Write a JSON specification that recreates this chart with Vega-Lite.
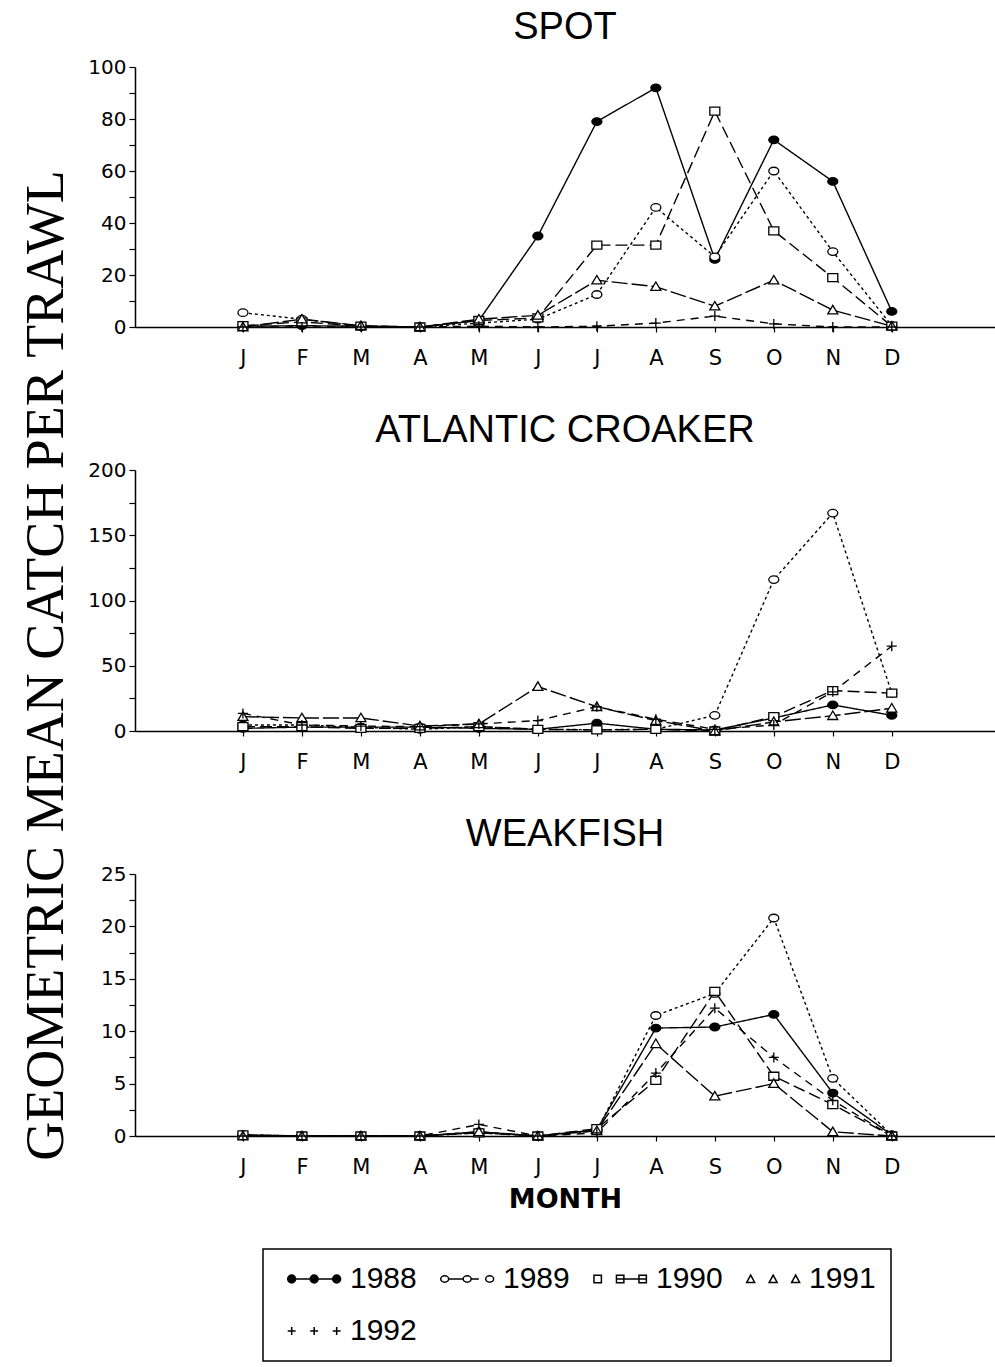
{
  "$schema": "https://vega.github.io/schema/vega-lite/v6.json",
  "background": "white",
  "padding": {"left": 19, "top": 9, "right": 0, "bottom": 0},
  "bounds": "flush",
  "spacing": 143,
  "config": {
    "view": {"stroke": null},
    "axis": {"grid": false, "domainColor": "black", "domainWidth": 1.5, "tickColor": "black", "tickWidth": 1.2, "labelColor": "black", "titleColor": "black", "labelFont": "DejaVu Sans"},
    "title": {"frame": "group", "anchor": "middle", "font": "Liberation Sans", "fontSize": 38, "fontWeight": "normal", "color": "black", "offset": 10},
    "legend": {"strokeWidth": 1.5, "symbolOpacity": 1}
  },
  "datasets": {
    "catch": [
      {"species":"SPOT","year":"1988","month":1,"value":0.3},{"species":"SPOT","year":"1988","month":2,"value":0.5},{"species":"SPOT","year":"1988","month":3,"value":0.3},{"species":"SPOT","year":"1988","month":4,"value":0},{"species":"SPOT","year":"1988","month":5,"value":2.5},{"species":"SPOT","year":"1988","month":6,"value":35},{"species":"SPOT","year":"1988","month":7,"value":79},{"species":"SPOT","year":"1988","month":8,"value":92},{"species":"SPOT","year":"1988","month":9,"value":26},{"species":"SPOT","year":"1988","month":10,"value":72},{"species":"SPOT","year":"1988","month":11,"value":56},{"species":"SPOT","year":"1988","month":12,"value":6},
      {"species":"SPOT","year":"1989","month":1,"value":5.5},{"species":"SPOT","year":"1989","month":2,"value":3},{"species":"SPOT","year":"1989","month":3,"value":0.3},{"species":"SPOT","year":"1989","month":4,"value":0},{"species":"SPOT","year":"1989","month":5,"value":1.5},{"species":"SPOT","year":"1989","month":6,"value":3},{"species":"SPOT","year":"1989","month":7,"value":12.5},{"species":"SPOT","year":"1989","month":8,"value":46},{"species":"SPOT","year":"1989","month":9,"value":27},{"species":"SPOT","year":"1989","month":10,"value":60},{"species":"SPOT","year":"1989","month":11,"value":29},{"species":"SPOT","year":"1989","month":12,"value":0.5},
      {"species":"SPOT","year":"1990","month":1,"value":0.5},{"species":"SPOT","year":"1990","month":2,"value":2},{"species":"SPOT","year":"1990","month":3,"value":0.3},{"species":"SPOT","year":"1990","month":4,"value":0},{"species":"SPOT","year":"1990","month":5,"value":2.5},{"species":"SPOT","year":"1990","month":6,"value":3.5},{"species":"SPOT","year":"1990","month":7,"value":31.5},{"species":"SPOT","year":"1990","month":8,"value":31.5},{"species":"SPOT","year":"1990","month":9,"value":83},{"species":"SPOT","year":"1990","month":10,"value":37},{"species":"SPOT","year":"1990","month":11,"value":19},{"species":"SPOT","year":"1990","month":12,"value":0.3},
      {"species":"SPOT","year":"1991","month":1,"value":0},{"species":"SPOT","year":"1991","month":2,"value":3},{"species":"SPOT","year":"1991","month":3,"value":0.5},{"species":"SPOT","year":"1991","month":4,"value":0},{"species":"SPOT","year":"1991","month":5,"value":3},{"species":"SPOT","year":"1991","month":6,"value":4.5},{"species":"SPOT","year":"1991","month":7,"value":18},{"species":"SPOT","year":"1991","month":8,"value":15.5},{"species":"SPOT","year":"1991","month":9,"value":8},{"species":"SPOT","year":"1991","month":10,"value":18},{"species":"SPOT","year":"1991","month":11,"value":6.5},{"species":"SPOT","year":"1991","month":12,"value":0.3},
      {"species":"SPOT","year":"1992","month":1,"value":0},{"species":"SPOT","year":"1992","month":2,"value":0},{"species":"SPOT","year":"1992","month":3,"value":0},{"species":"SPOT","year":"1992","month":4,"value":0},{"species":"SPOT","year":"1992","month":5,"value":0.3},{"species":"SPOT","year":"1992","month":6,"value":0},{"species":"SPOT","year":"1992","month":7,"value":0.3},{"species":"SPOT","year":"1992","month":8,"value":1.5},{"species":"SPOT","year":"1992","month":9,"value":4.2},{"species":"SPOT","year":"1992","month":10,"value":1.2},{"species":"SPOT","year":"1992","month":11,"value":0},{"species":"SPOT","year":"1992","month":12,"value":0},
      {"species":"ATLANTIC CROAKER","year":"1988","month":1,"value":2},{"species":"ATLANTIC CROAKER","year":"1988","month":2,"value":3},{"species":"ATLANTIC CROAKER","year":"1988","month":3,"value":3},{"species":"ATLANTIC CROAKER","year":"1988","month":4,"value":3},{"species":"ATLANTIC CROAKER","year":"1988","month":5,"value":2},{"species":"ATLANTIC CROAKER","year":"1988","month":6,"value":1.3},{"species":"ATLANTIC CROAKER","year":"1988","month":7,"value":6},{"species":"ATLANTIC CROAKER","year":"1988","month":8,"value":1.3},{"species":"ATLANTIC CROAKER","year":"1988","month":9,"value":0.8},{"species":"ATLANTIC CROAKER","year":"1988","month":10,"value":10},{"species":"ATLANTIC CROAKER","year":"1988","month":11,"value":20},{"species":"ATLANTIC CROAKER","year":"1988","month":12,"value":12},
      {"species":"ATLANTIC CROAKER","year":"1989","month":1,"value":4.6},{"species":"ATLANTIC CROAKER","year":"1989","month":2,"value":4.6},{"species":"ATLANTIC CROAKER","year":"1989","month":3,"value":2.8},{"species":"ATLANTIC CROAKER","year":"1989","month":4,"value":1.3},{"species":"ATLANTIC CROAKER","year":"1989","month":5,"value":3.3},{"species":"ATLANTIC CROAKER","year":"1989","month":6,"value":1.3},{"species":"ATLANTIC CROAKER","year":"1989","month":7,"value":1},{"species":"ATLANTIC CROAKER","year":"1989","month":8,"value":1.3},{"species":"ATLANTIC CROAKER","year":"1989","month":9,"value":12},{"species":"ATLANTIC CROAKER","year":"1989","month":10,"value":116},{"species":"ATLANTIC CROAKER","year":"1989","month":11,"value":167},{"species":"ATLANTIC CROAKER","year":"1989","month":12,"value":29},
      {"species":"ATLANTIC CROAKER","year":"1990","month":1,"value":3.3},{"species":"ATLANTIC CROAKER","year":"1990","month":2,"value":3.3},{"species":"ATLANTIC CROAKER","year":"1990","month":3,"value":2},{"species":"ATLANTIC CROAKER","year":"1990","month":4,"value":2},{"species":"ATLANTIC CROAKER","year":"1990","month":5,"value":3.3},{"species":"ATLANTIC CROAKER","year":"1990","month":6,"value":1.3},{"species":"ATLANTIC CROAKER","year":"1990","month":7,"value":0.8},{"species":"ATLANTIC CROAKER","year":"1990","month":8,"value":1.3},{"species":"ATLANTIC CROAKER","year":"1990","month":9,"value":0},{"species":"ATLANTIC CROAKER","year":"1990","month":10,"value":11},{"species":"ATLANTIC CROAKER","year":"1990","month":11,"value":31},{"species":"ATLANTIC CROAKER","year":"1990","month":12,"value":29},
      {"species":"ATLANTIC CROAKER","year":"1991","month":1,"value":11},{"species":"ATLANTIC CROAKER","year":"1991","month":2,"value":10},{"species":"ATLANTIC CROAKER","year":"1991","month":3,"value":10},{"species":"ATLANTIC CROAKER","year":"1991","month":4,"value":3.8},{"species":"ATLANTIC CROAKER","year":"1991","month":5,"value":5.4},{"species":"ATLANTIC CROAKER","year":"1991","month":6,"value":34},{"species":"ATLANTIC CROAKER","year":"1991","month":7,"value":18.6},{"species":"ATLANTIC CROAKER","year":"1991","month":8,"value":8},{"species":"ATLANTIC CROAKER","year":"1991","month":9,"value":0},{"species":"ATLANTIC CROAKER","year":"1991","month":10,"value":7},{"species":"ATLANTIC CROAKER","year":"1991","month":11,"value":11.7},{"species":"ATLANTIC CROAKER","year":"1991","month":12,"value":17.4},
      {"species":"ATLANTIC CROAKER","year":"1992","month":1,"value":13.5},{"species":"ATLANTIC CROAKER","year":"1992","month":2,"value":4.6},{"species":"ATLANTIC CROAKER","year":"1992","month":3,"value":3.8},{"species":"ATLANTIC CROAKER","year":"1992","month":4,"value":3.3},{"species":"ATLANTIC CROAKER","year":"1992","month":5,"value":5.4},{"species":"ATLANTIC CROAKER","year":"1992","month":6,"value":8},{"species":"ATLANTIC CROAKER","year":"1992","month":7,"value":18.6},{"species":"ATLANTIC CROAKER","year":"1992","month":8,"value":9},{"species":"ATLANTIC CROAKER","year":"1992","month":9,"value":1.3},{"species":"ATLANTIC CROAKER","year":"1992","month":10,"value":4.6},{"species":"ATLANTIC CROAKER","year":"1992","month":11,"value":30},{"species":"ATLANTIC CROAKER","year":"1992","month":12,"value":65},
      {"species":"WEAKFISH","year":"1988","month":1,"value":0.1},{"species":"WEAKFISH","year":"1988","month":2,"value":0},{"species":"WEAKFISH","year":"1988","month":3,"value":0},{"species":"WEAKFISH","year":"1988","month":4,"value":0},{"species":"WEAKFISH","year":"1988","month":5,"value":0.4},{"species":"WEAKFISH","year":"1988","month":6,"value":0},{"species":"WEAKFISH","year":"1988","month":7,"value":0.6},{"species":"WEAKFISH","year":"1988","month":8,"value":10.3},{"species":"WEAKFISH","year":"1988","month":9,"value":10.4},{"species":"WEAKFISH","year":"1988","month":10,"value":11.6},{"species":"WEAKFISH","year":"1988","month":11,"value":4.1},{"species":"WEAKFISH","year":"1988","month":12,"value":0.1},
      {"species":"WEAKFISH","year":"1989","month":1,"value":0.1},{"species":"WEAKFISH","year":"1989","month":2,"value":0},{"species":"WEAKFISH","year":"1989","month":3,"value":0},{"species":"WEAKFISH","year":"1989","month":4,"value":0},{"species":"WEAKFISH","year":"1989","month":5,"value":0.3},{"species":"WEAKFISH","year":"1989","month":6,"value":0},{"species":"WEAKFISH","year":"1989","month":7,"value":0.5},{"species":"WEAKFISH","year":"1989","month":8,"value":11.5},{"species":"WEAKFISH","year":"1989","month":9,"value":13.6},{"species":"WEAKFISH","year":"1989","month":10,"value":20.8},{"species":"WEAKFISH","year":"1989","month":11,"value":5.5},{"species":"WEAKFISH","year":"1989","month":12,"value":0.1},
      {"species":"WEAKFISH","year":"1990","month":1,"value":0.1},{"species":"WEAKFISH","year":"1990","month":2,"value":0},{"species":"WEAKFISH","year":"1990","month":3,"value":0},{"species":"WEAKFISH","year":"1990","month":4,"value":0},{"species":"WEAKFISH","year":"1990","month":5,"value":0.3},{"species":"WEAKFISH","year":"1990","month":6,"value":0},{"species":"WEAKFISH","year":"1990","month":7,"value":0.7},{"species":"WEAKFISH","year":"1990","month":8,"value":5.3},{"species":"WEAKFISH","year":"1990","month":9,"value":13.8},{"species":"WEAKFISH","year":"1990","month":10,"value":5.7},{"species":"WEAKFISH","year":"1990","month":11,"value":3},{"species":"WEAKFISH","year":"1990","month":12,"value":0},
      {"species":"WEAKFISH","year":"1991","month":1,"value":0},{"species":"WEAKFISH","year":"1991","month":2,"value":0},{"species":"WEAKFISH","year":"1991","month":3,"value":0},{"species":"WEAKFISH","year":"1991","month":4,"value":0},{"species":"WEAKFISH","year":"1991","month":5,"value":0.4},{"species":"WEAKFISH","year":"1991","month":6,"value":0},{"species":"WEAKFISH","year":"1991","month":7,"value":0.5},{"species":"WEAKFISH","year":"1991","month":8,"value":8.8},{"species":"WEAKFISH","year":"1991","month":9,"value":3.8},{"species":"WEAKFISH","year":"1991","month":10,"value":5},{"species":"WEAKFISH","year":"1991","month":11,"value":0.4},{"species":"WEAKFISH","year":"1991","month":12,"value":0},
      {"species":"WEAKFISH","year":"1992","month":1,"value":0},{"species":"WEAKFISH","year":"1992","month":2,"value":0},{"species":"WEAKFISH","year":"1992","month":3,"value":0},{"species":"WEAKFISH","year":"1992","month":4,"value":0},{"species":"WEAKFISH","year":"1992","month":5,"value":1.1},{"species":"WEAKFISH","year":"1992","month":6,"value":0},{"species":"WEAKFISH","year":"1992","month":7,"value":0.3},{"species":"WEAKFISH","year":"1992","month":8,"value":6},{"species":"WEAKFISH","year":"1992","month":9,"value":12.2},{"species":"WEAKFISH","year":"1992","month":10,"value":7.5},{"species":"WEAKFISH","year":"1992","month":11,"value":3.4},{"species":"WEAKFISH","year":"1992","month":12,"value":0}
    ]
  },
  "vconcat": [
    {
      "width": 860, "height": 260,
      "title": {"text": "SPOT"},
      "data": {"name": "catch"},
      "transform": [{"filter": "datum.species === 'SPOT'"}],
      "encoding": {
        "x": {"field": "month", "type": "quantitative", "scale": {"domain": [-0.83, 13.75], "nice": false, "zero": false},
              "axis": {"title": null, "values": [1,2,3,4,5,6,7,8,9,10,11,12], "labelExpr": "['J','F','M','A','M','J','J','A','S','O','N','D'][datum.value - 1]", "labelFontSize": 21, "tickSize": 5, "labelPadding": 15}},
        "y": {"field": "value", "type": "quantitative", "scale": {"domain": [0, 100], "nice": false},
              "axis": {"title": "GEOMETRIC MEAN CATCH PER TRAWL", "titleFont": "Liberation Serif", "titleFontSize": 54, "titleFontWeight": "normal", "titleX": -73, "titleY": 598, "titleBaseline": "alphabetic", "titleAlign": "center", "titleAngle": -90,
                       "values": [0,10,20,30,40,50,60,70,80,90,100], "labelExpr": "datum.value % 20 === 0 ? datum.label : ''", "labelFontSize": 20, "tickSize": 6, "labelPadding": 3}}
      },
      "layer": [
        {"mark": {"type": "line", "color": "black", "strokeWidth": 1.4},
         "encoding": {"strokeDash": {"field": "year", "type": "nominal", "scale": {"domain": ["1988","1989","1990","1991","1992"], "range": [[1,0],[3,3],[12,5],[16,4],[8,6]]}, "legend": null}}},
        {"mark": {"type": "point", "filled": true, "stroke": "black", "strokeWidth": 1.3, "size": 100, "opacity": 1},
         "encoding": {
           "shape": {"field": "year", "type": "nominal", "scale": {"domain": ["1988","1989","1990","1991","1992"], "range": ["M -1 0 A 1 0.75 0 1 0 1 0 A 1 0.75 0 1 0 -1 0 Z","M -1 0 A 1 0.75 0 1 0 1 0 A 1 0.75 0 1 0 -1 0 Z","M -1 -0.8 L 1 -0.8 L 1 0.8 L -1 0.8 Z","M -1 0.75 L 0 -0.95 L 1 0.75 Z","M -1 0 L 1 0 M 0 -1 L 0 1"]}, "legend": null},
           "fill": {"field": "year", "type": "nominal", "scale": {"domain": ["1988","1989","1990","1991","1992"], "range": ["black","white","white","white","white"]}, "legend": null}
         }}
      ]
    },
    {
      "width": 860, "height": 261,
      "title": {"text": "ATLANTIC CROAKER"},
      "data": {"name": "catch"},
      "transform": [{"filter": "datum.species === 'ATLANTIC CROAKER'"}],
      "encoding": {
        "x": {"field": "month", "type": "quantitative", "scale": {"domain": [-0.83, 13.75], "nice": false, "zero": false},
              "axis": {"title": null, "values": [1,2,3,4,5,6,7,8,9,10,11,12], "labelExpr": "['J','F','M','A','M','J','J','A','S','O','N','D'][datum.value - 1]", "labelFontSize": 21, "tickSize": 5, "labelPadding": 15}},
        "y": {"field": "value", "type": "quantitative", "scale": {"domain": [0, 200], "nice": false},
              "axis": {"title": null, "values": [0,25,50,75,100,125,150,175,200], "labelExpr": "datum.value % 50 === 0 ? datum.label : ''", "labelFontSize": 20, "tickSize": 6, "labelPadding": 3}}
      },
      "layer": [
        {"mark": {"type": "line", "color": "black", "strokeWidth": 1.4},
         "encoding": {"strokeDash": {"field": "year", "type": "nominal", "scale": {"domain": ["1988","1989","1990","1991","1992"], "range": [[1,0],[3,3],[12,5],[16,4],[8,6]]}, "legend": null}}},
        {"mark": {"type": "point", "filled": true, "stroke": "black", "strokeWidth": 1.3, "size": 100, "opacity": 1},
         "encoding": {
           "shape": {"field": "year", "type": "nominal", "scale": {"domain": ["1988","1989","1990","1991","1992"], "range": ["M -1 0 A 1 0.75 0 1 0 1 0 A 1 0.75 0 1 0 -1 0 Z","M -1 0 A 1 0.75 0 1 0 1 0 A 1 0.75 0 1 0 -1 0 Z","M -1 -0.8 L 1 -0.8 L 1 0.8 L -1 0.8 Z","M -1 0.75 L 0 -0.95 L 1 0.75 Z","M -1 0 L 1 0 M 0 -1 L 0 1"]}, "legend": null},
           "fill": {"field": "year", "type": "nominal", "scale": {"domain": ["1988","1989","1990","1991","1992"], "range": ["black","white","white","white","white"]}, "legend": null}
         }}
      ]
    },
    {
      "width": 860, "height": 262,
      "title": {"text": "WEAKFISH"},
      "data": {"name": "catch"},
      "transform": [{"filter": "datum.species === 'WEAKFISH'"}],
      "encoding": {
        "x": {"field": "month", "type": "quantitative", "scale": {"domain": [-0.83, 13.75], "nice": false, "zero": false},
              "axis": {"title": "MONTH", "titleFont": "DejaVu Sans", "titleFontSize": 27, "titleFontWeight": "bold", "titlePadding": 9, "values": [1,2,3,4,5,6,7,8,9,10,11,12], "labelExpr": "['J','F','M','A','M','J','J','A','S','O','N','D'][datum.value - 1]", "labelFontSize": 21, "tickSize": 5, "labelPadding": 15}},
        "y": {"field": "value", "type": "quantitative", "scale": {"domain": [0, 25], "nice": false},
              "axis": {"title": null, "values": [0,2.5,5,7.5,10,12.5,15,17.5,20,22.5,25], "labelExpr": "datum.value % 5 === 0 ? datum.label : ''", "labelFontSize": 20, "tickSize": 6, "labelPadding": 3}}
      },
      "resolve": {"scale": {"shape": "independent", "fill": "independent"}, "legend": {"shape": "independent", "fill": "independent"}},
      "layer": [
        {"mark": {"type": "line", "color": "black", "strokeWidth": 1.4},
         "encoding": {"strokeDash": {"field": "year", "type": "nominal", "scale": {"domain": ["1988","1989","1990","1991","1992"], "range": [[1,0],[3,3],[12,5],[16,4],[8,6]]}, "legend": null}}},
        {"mark": {"type": "point", "filled": true, "stroke": "black", "strokeWidth": 1.3, "size": 100, "opacity": 1},
         "encoding": {
           "shape": {"field": "year", "type": "nominal", "scale": {"domain": ["1988","1989","1990","1991","1992"], "range": ["M -1 0 A 1 0.75 0 1 0 1 0 A 1 0.75 0 1 0 -1 0 Z","M -1 0 A 1 0.75 0 1 0 1 0 A 1 0.75 0 1 0 -1 0 Z","M -1 -0.8 L 1 -0.8 L 1 0.8 L -1 0.8 Z","M -1 0.75 L 0 -0.95 L 1 0.75 Z","M -1 0 L 1 0 M 0 -1 L 0 1"]}, "legend": null},
           "fill": {"field": "year", "type": "nominal", "scale": {"domain": ["1988","1989","1990","1991","1992"], "range": ["black","white","white","white","white"]}, "legend": null}
         }},
        {"mark": {"type": "point", "filled": true, "stroke": "black", "strokeWidth": 1.3, "size": 0, "opacity": 1},
         "encoding": {
           "shape": {"field": "year", "type": "nominal",
             "scale": {"domain": ["1988","1989","1990","1991","1992"], "range": [
               "M -1 0 A 0.75 0.75 0 1 0 0.5 0 A 0.75 0.75 0 1 0 -1 0 Z M 3.25 0 A 0.75 0.75 0 1 0 4.75 0 A 0.75 0.75 0 1 0 3.25 0 Z M 7.5 0 A 0.75 0.75 0 1 0 9 0 A 0.75 0.75 0 1 0 7.5 0 Z M 0.5 0 L 3.25 0 M 4.75 0 L 7.5 0",
               "M -1 0 A 0.75 0.6 0 1 0 0.5 0 A 0.75 0.6 0 1 0 -1 0 Z M 3.25 0 A 0.75 0.6 0 1 0 4.75 0 A 0.75 0.6 0 1 0 3.25 0 Z M 7.5 0 A 0.75 0.6 0 1 0 9 0 A 0.75 0.6 0 1 0 7.5 0 Z M 0.5 0 L 3.25 0 M 4.75 0 L 6.2 0",
               "M -0.95 -0.7 L 0.45 -0.7 L 0.45 0.7 L -0.95 0.7 Z M 3.3 -0.7 L 4.7 -0.7 L 4.7 0.7 L 3.3 0.7 Z M 7.55 -0.7 L 8.95 -0.7 L 8.95 0.7 L 7.55 0.7 Z M 3.3 0 L 8.95 0",
               "M -1 0.65 L -0.25 -0.75 L 0.5 0.65 Z M 3.25 0.65 L 4 -0.75 L 4.75 0.65 Z M 7.5 0.65 L 8.25 -0.75 L 9 0.65 Z",
               "M -1 0 L 0.5 0 M -0.25 -0.75 L -0.25 0.75 M 3.25 0 L 4.75 0 M 4 -0.75 L 4 0.75 M 7.5 0 L 9 0 M 8.25 -0.75 L 8.25 0.75"]},
             "legend": {"orient": "none", "legendX": 128, "legendY": 375, "direction": "horizontal", "columns": 4, "title": null, "padding": 15, "strokeColor": "black", "labelFont": "Liberation Sans", "labelFontSize": 30, "labelColor": "black", "labelOffset": 42, "labelLimit": 0, "columnPadding": 14, "rowPadding": 22, "symbolSize": 112, "symbolOpacity": 1,
                        "encode": {"symbols": {"update": {"stroke": {"value": "black"}, "strokeWidth": {"value": 1.3}, "opacity": {"value": 1}, "fillOpacity": {"value": 1}, "strokeOpacity": {"value": 1}}}}}},
           "fill": {"field": "year", "type": "nominal",
             "scale": {"domain": ["1988","1989","1990","1991","1992"], "range": ["black","white","white","white","white"]},
             "legend": {"orient": "none", "legendX": 128, "legendY": 375, "direction": "horizontal", "columns": 4, "title": null, "padding": 15, "strokeColor": "black", "labelFont": "Liberation Sans", "labelFontSize": 30, "labelColor": "black", "labelOffset": 42, "labelLimit": 0, "columnPadding": 14, "rowPadding": 22, "symbolSize": 112, "symbolOpacity": 1,
                        "encode": {"symbols": {"update": {"stroke": {"value": "black"}, "strokeWidth": {"value": 1.3}, "opacity": {"value": 1}, "fillOpacity": {"value": 1}, "strokeOpacity": {"value": 1}}}}}}
         }}
      ]
    }
  ]
}
